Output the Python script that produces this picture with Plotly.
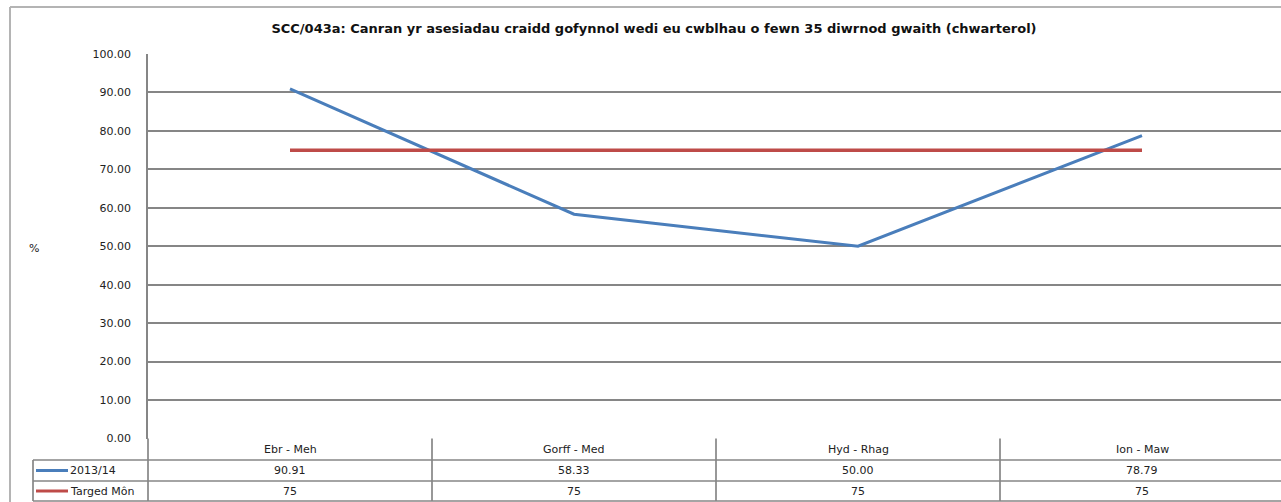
import plotly.graph_objects as go

# data
categories = ["Ebr - Meh", "Gorff - Med", "Hyd - Rhag", "Ion - Maw"]
series_names = ["2013/14", "Targed Môn"]
values_2013 = [90.91, 58.33, 50.00, 78.79]
values_target = [75, 75, 75, 75]
y_ticks = [0, 10, 20, 30, 40, 50, 60, 70, 80, 90, 100]

title = "SCC/043a: Canran yr asesiadau craidd gofynnol wedi eu cwblhau o fewn 35 diwrnod gwaith (chwarterol)"

W, H = 1281, 502
colors = ["#4A7EBB", "#BE4B48"]
grid = "#868686"


def px(x):
    return x / W


def py(y):
    return 1 - y / H


fig = go.Figure()
fig.add_trace(go.Scatter(x=categories, y=values_2013, mode="lines", name=series_names[0],
                         line=dict(color=colors[0], width=3)))
fig.add_trace(go.Scatter(x=categories, y=values_target, mode="lines", name=series_names[1],
                         line=dict(color=colors[1], width=3.5)))

# plot area in pixels
left, top, bottom = 148, 54, 438.5
col_w = 284
rows = [438.5, 460, 481, 501]

shapes = []
line_style = dict(color=grid, width=1.7)

# outer chart border
shapes.append(dict(type="line", xref="paper", yref="paper", x0=px(10), x1=px(10), y0=py(7), y1=py(502),
                   line=dict(color="#b4b4b4", width=2)))
shapes.append(dict(type="line", xref="paper", yref="paper", x0=px(10), x1=1, y0=py(7), y1=py(7),
                   line=dict(color="#b4b4b4", width=2)))

# data table lines
for y in rows[1:]:
    shapes.append(dict(type="line", xref="paper", yref="paper", x0=px(33), x1=1, y0=py(y), y1=py(y),
                       line=line_style))
shapes.append(dict(type="line", xref="paper", yref="paper", x0=px(33), x1=px(33), y0=py(rows[1]), y1=py(rows[3]),
                   line=line_style))
for k in range(len(categories)):
    x = left + k * col_w
    shapes.append(dict(type="line", xref="paper", yref="paper", x0=px(x), x1=px(x),
                       y0=py(rows[0]), y1=py(rows[3]), line=line_style))

annotations = []
txt_font = dict(family="DejaVu Sans", size=11, color="#222")
for k, cat in enumerate(categories):
    cx = left + (k + 0.5) * col_w
    annotations.append(dict(x=px(cx), y=py((rows[0] + rows[1]) / 2), xref="paper", yref="paper",
                            text=cat, showarrow=False, font=txt_font, xanchor="center", yanchor="middle"))
    annotations.append(dict(x=px(cx), y=py((rows[1] + rows[2]) / 2), xref="paper", yref="paper",
                            text=f"{values_2013[k]:.2f}", showarrow=False, font=txt_font,
                            xanchor="center", yanchor="middle"))
    annotations.append(dict(x=px(cx), y=py((rows[2] + rows[3]) / 2), xref="paper", yref="paper",
                            text=f"{values_target[k]:g}", showarrow=False, font=txt_font,
                            xanchor="center", yanchor="middle"))

# legend keys inside the table
for i, name in enumerate(series_names):
    yc = (rows[i + 1] + rows[i + 2]) / 2
    shapes.append(dict(type="line", xref="paper", yref="paper", x0=px(36), x1=px(68), y0=py(yc), y1=py(yc),
                       line=dict(color=colors[i], width=3)))
    annotations.append(dict(x=px(68), y=py(yc), xref="paper", yref="paper", text=name, showarrow=False,
                            font=txt_font, xanchor="left", yanchor="middle"))

# y-axis title
annotations.append(dict(x=px(34), y=py(248), xref="paper", yref="paper", text="%", showarrow=False,
                        font=txt_font, xanchor="center", yanchor="middle"))

fig.update_layout(
    width=W, height=H,
    margin=dict(l=0, r=0, t=0, b=0, autoexpand=False),
    paper_bgcolor="white", plot_bgcolor="white",
    showlegend=False,
    title=dict(text="<b>" + title + "</b>", x=px(654), xanchor="center", y=py(28), yanchor="middle",
               font=dict(family="DejaVu Sans", size=13, color="#111")),
    shapes=shapes,
    annotations=annotations,
)
fig.update_xaxes(domain=[px(left), 1], type="category", range=[-0.5, (W - left) / col_w - 0.5],
                 showticklabels=False, showgrid=False, zeroline=False, showline=False, automargin=False)
fig.update_yaxes(domain=[py(bottom), py(top)], range=[0, 100], tickvals=y_ticks, tickformat=".2f",
                 showgrid=True, gridcolor=grid, gridwidth=1.7, zeroline=False,
                 showline=True, linecolor=grid, linewidth=1.7,
                 ticks="", ticklabelstandoff=13, automargin=False,
                 tickfont=dict(family="DejaVu Sans", size=11, color="#222"))

# drop the default page margin so the figure sits at the window origin
fig.write_html("out.html", config={"displayModeBar": False},
               post_script="document.body.style.margin='0';document.body.style.overflow='hidden';")
